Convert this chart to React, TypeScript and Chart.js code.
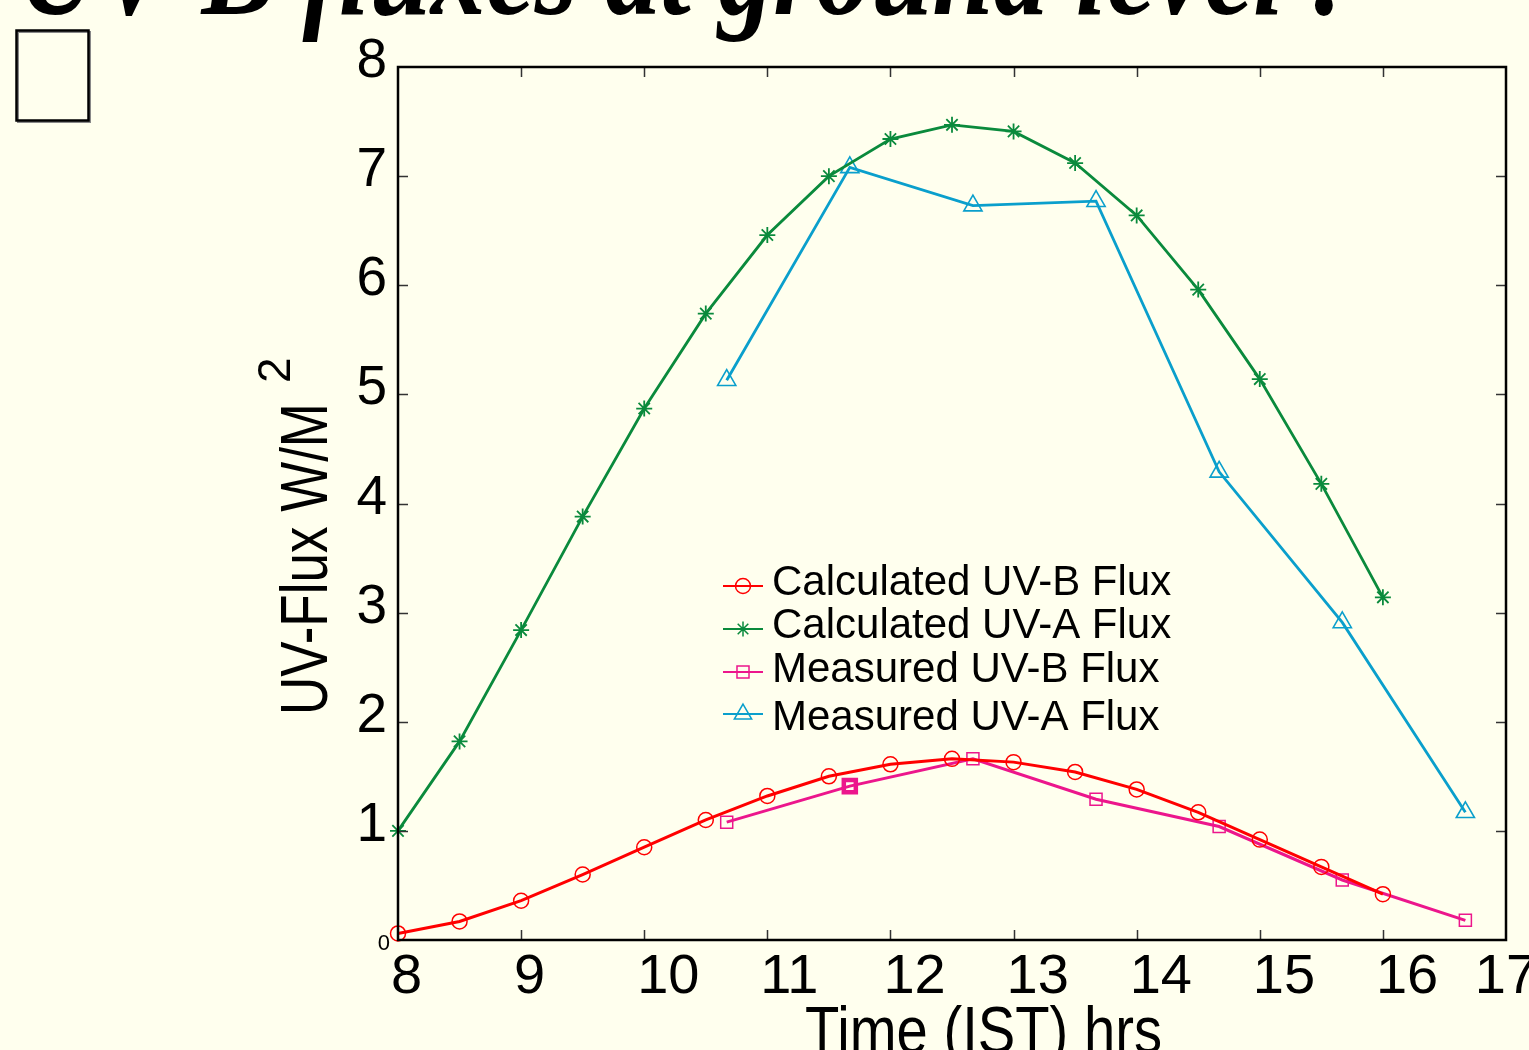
import React, { useEffect, useRef } from "react";
import { Chart, registerables } from "chart.js";
import { drawPoint } from "chart.js/helpers";

Chart.register(...registerables);

// ---- data ----
const calcTimes = [8, 8.5, 9, 9.5, 10, 10.5, 11, 11.5, 12, 12.5, 13, 13.5, 14, 14.5, 15, 15.5, 16];
const calcUVB = [0.06, 0.17, 0.36, 0.6, 0.85, 1.1, 1.32, 1.5, 1.61, 1.66, 1.63, 1.54, 1.38, 1.17, 0.92, 0.67, 0.42];
const calcUVA = [1.0, 1.82, 2.84, 3.88, 4.87, 5.74, 6.46, 7.0, 7.34, 7.47, 7.41, 7.12, 6.64, 5.96, 5.14, 4.18, 3.14];
const measTimes = [10.67, 11.67, 12.67, 13.67, 14.67, 15.67, 16.67];
const measUVB = [1.08, 1.41, 1.66, 1.29, 1.04, 0.55, 0.18];
const measUVA = [5.13, 7.08, 6.73, 6.77, 4.29, 2.91, 1.17];
const seriesNames = ["Calculated UV-B Flux", "Calculated UV-A Flux", "Measured UV-B Flux", "Measured UV-A Flux"];
const xTickValues = [8, 9, 10, 11, 12, 13, 14, 15, 16, 17];
const yTickValues = [0, 1, 2, 3, 4, 5, 6, 7, 8];
const titleText = "UV-B fluxes at ground level :";
const xTitle = "Time (IST) hrs";
const yTitle = "UV-Flux W/M";
const yTitleSup = "2";

const BG = "#FFFFEE";
const RED = "#FF0000";
const GREEN = "#0A8A3C";
const PINK = "#EC168C";
const BLUE = "#0A9FCC";

const SANS = "'Liberation Sans', Arial, sans-serif";

const legendStyles = [
  { color: RED, pointStyle: "circle", radius: 7.5 },
  { color: GREEN, pointStyle: "star", radius: 7.5 },
  { color: PINK, pointStyle: "rect", radius: 8.5 },
  { color: BLUE, pointStyle: "triangle", radius: 10 },
];

const decorPlugin = {
  id: "decor",
  beforeDraw(chart: any) {
    const ctx = chart.ctx;
    ctx.save();
    ctx.fillStyle = BG;
    ctx.fillRect(0, 0, chart.width, chart.height);
    ctx.restore();
  },
  afterDraw(chart: any) {
    const ctx: CanvasRenderingContext2D = chart.ctx;
    const ca = chart.chartArea;
    const xs = chart.scales.x;
    const ys = chart.scales.y;
    ctx.save();

    // Title (partly cut off at the top)
    ctx.font = `italic bold 132px 'Liberation Serif', serif`;
    ctx.fillStyle = "#000";
    ctx.textBaseline = "alphabetic";
    ctx.textAlign = "left";
    const tw = ctx.measureText(titleText).width;
    ctx.save();
    ctx.translate(18, 14);
    ctx.scale(1330 / tw, 1);
    ctx.fillText(titleText, 0, 0);
    ctx.restore();

    // small empty box at top-left
    ctx.strokeStyle = "#888";
    ctx.lineWidth = 2;
    ctx.strokeRect(18, 32, 72, 90);
    ctx.strokeStyle = "#000";
    ctx.lineWidth = 2.5;
    ctx.strokeRect(16.5, 30.5, 72, 90);

    // inward ticks
    ctx.strokeStyle = "#333";
    ctx.lineWidth = 1.5;
    const tl = 10;
    ctx.beginPath();
    xTickValues.forEach((v) => {
      const px = Math.round(xs.getPixelForValue(v)) + 0.5;
      if (px <= ca.left + 1 || px >= ca.right - 1) return;
      ctx.moveTo(px, ca.bottom);
      ctx.lineTo(px, ca.bottom - tl);
      ctx.moveTo(px, ca.top);
      ctx.lineTo(px, ca.top + tl);
    });
    yTickValues.forEach((v) => {
      const py = Math.round(ys.getPixelForValue(v)) + 0.5;
      if (py <= ca.top + 1 || py >= ca.bottom - 1) return;
      ctx.moveTo(ca.left, py);
      ctx.lineTo(ca.left + tl, py);
      ctx.moveTo(ca.right, py);
      ctx.lineTo(ca.right - tl, py);
    });
    ctx.stroke();

    // plot box
    ctx.strokeStyle = "#000";
    ctx.lineWidth = 2.5;
    ctx.strokeRect(ca.left, ca.top, ca.right - ca.left, ca.bottom - ca.top);

    // x tick labels
    ctx.fillStyle = "#000";
    ctx.textBaseline = "alphabetic";
    xTickValues.forEach((v, i) => {
      const px = xs.getPixelForValue(v);
      const s = String(v);
      ctx.save();
      ctx.font = `56px ${SANS}`;
      const w = ctx.measureText(s).width;
      const last = i === xTickValues.length - 1;
      const left = last ? px - w / 2 : px - 7;
      ctx.textAlign = "left";
      ctx.fillText(s, left, ca.bottom + 53);
      ctx.restore();
    });

    // y tick labels
    yTickValues.forEach((v) => {
      const py = ys.getPixelForValue(v);
      const s = String(v);
      ctx.save();
      ctx.textAlign = "right";
      if (v === 0) {
        ctx.font = `22px ${SANS}`;
        ctx.fillText(s, ca.left - 8, py + 10);
      } else {
        ctx.font = `55px ${SANS}`;
        ctx.fillText(s, ca.left - 11, py + 10);
      }
      ctx.restore();
    });

    // x title
    ctx.save();
    ctx.font = `66px ${SANS}`;
    const xw = ctx.measureText(xTitle).width;
    const xsx = 357 / xw;
    ctx.translate(805, 1053);
    ctx.scale(xsx, 1);
    ctx.textAlign = "left";
    ctx.fillText(xTitle, 0, 0);
    ctx.restore();

    // y title with superscript
    ctx.save();
    ctx.font = `67px ${SANS}`;
    const yw = ctx.measureText(yTitle).width;
    const ysx = 312 / yw;
    ctx.translate(327, 715);
    ctx.rotate(-Math.PI / 2);
    ctx.save();
    ctx.scale(ysx, 1);
    ctx.textAlign = "left";
    ctx.fillText(yTitle, 0, 0);
    ctx.restore();
    ctx.font = `46px ${SANS}`;
    ctx.fillText(yTitleSup, 332, -37);
    ctx.restore();

    // legend
    const rows = [
      { lineY: 586, textY: 595 },
      { lineY: 629, textY: 638 },
      { lineY: 672, textY: 682 },
      { lineY: 714, textY: 730 },
    ];
    seriesNames.forEach((name, i) => {
      const st = legendStyles[i];
      const r = rows[i];
      ctx.save();
      ctx.strokeStyle = st.color;
      ctx.lineWidth = 1.8;
      ctx.beginPath();
      ctx.moveTo(723, r.lineY);
      ctx.lineTo(763, r.lineY);
      ctx.stroke();
      ctx.fillStyle = "rgba(0,0,0,0)";
      ctx.lineWidth = 1.5;
      drawPoint(ctx, { pointStyle: st.pointStyle, radius: st.radius, borderWidth: 1.5, rotation: 0 } as any, 743, r.lineY);
      ctx.restore();
      ctx.save();
      ctx.font = `42px ${SANS}`;
      ctx.fillStyle = "#000";
      ctx.textAlign = "left";
      ctx.textBaseline = "alphabetic";
      ctx.fillText(name, 772, r.textY);
      ctx.restore();
    });

    ctx.restore();
  },
};

export default function App() {
  const ref = useRef<HTMLCanvasElement | null>(null);
  useEffect(() => {
    if (!ref.current) return;
    const toXY = (xsArr: number[], ysArr: number[]) => xsArr.map((x, i) => ({ x, y: ysArr[i] }));
    const common = {
      tension: 0,
      fill: false,
      clip: false as any,
      pointBackgroundColor: "rgba(0,0,0,0)",
    };
    const chart = new Chart(ref.current, {
      type: "line",
      data: {
        datasets: [
          {
            ...common,
            label: seriesNames[0],
            data: toXY(calcTimes, calcUVB),
            borderColor: RED,
            pointBorderColor: RED,
            borderWidth: 3,
            pointStyle: "circle",
            pointRadius: 7.5,
            pointBorderWidth: 1.5,
          },
          {
            ...common,
            label: seriesNames[1],
            data: toXY(calcTimes, calcUVA),
            borderColor: GREEN,
            pointBorderColor: GREEN,
            borderWidth: 2.8,
            pointStyle: "star",
            pointRadius: 8,
            pointBorderWidth: 1.8,
          },
          {
            ...common,
            label: seriesNames[2],
            data: toXY(measTimes, measUVB),
            borderColor: PINK,
            pointBorderColor: PINK,
            borderWidth: 3,
            pointStyle: "rect",
            pointRadius: 8.5,
            pointBorderWidth: (c: any) => (c.dataIndex === 1 ? 4.5 : 1.5),
          },
          {
            ...common,
            label: seriesNames[3],
            data: toXY(measTimes, measUVA),
            borderColor: BLUE,
            pointBorderColor: BLUE,
            borderWidth: 2.8,
            pointStyle: "triangle",
            pointRadius: 10.5,
            pointBorderWidth: 1.6,
          },
        ] as any,
      },
      options: {
        responsive: false,
        maintainAspectRatio: false,
        devicePixelRatio: 1,
        animation: false,
        layout: { padding: { left: 398, top: 67, right: 23, bottom: 110 } },
        plugins: { legend: { display: false }, title: { display: false }, tooltip: { enabled: false } },
        scales: {
          x: { type: "linear", min: 8, max: 17, display: false },
          y: { type: "linear", min: 0, max: 8, display: false },
        },
      } as any,
      plugins: [decorPlugin],
    });
    return () => chart.destroy();
  }, []);
  return (
    <div style={{ position: "absolute", left: 0, top: 0, width: 1529, height: 1050, background: BG, overflow: "hidden" }}>
      <canvas ref={ref} width={1529} height={1050} style={{ display: "block", width: 1529, height: 1050 }} />
    </div>
  );
}
